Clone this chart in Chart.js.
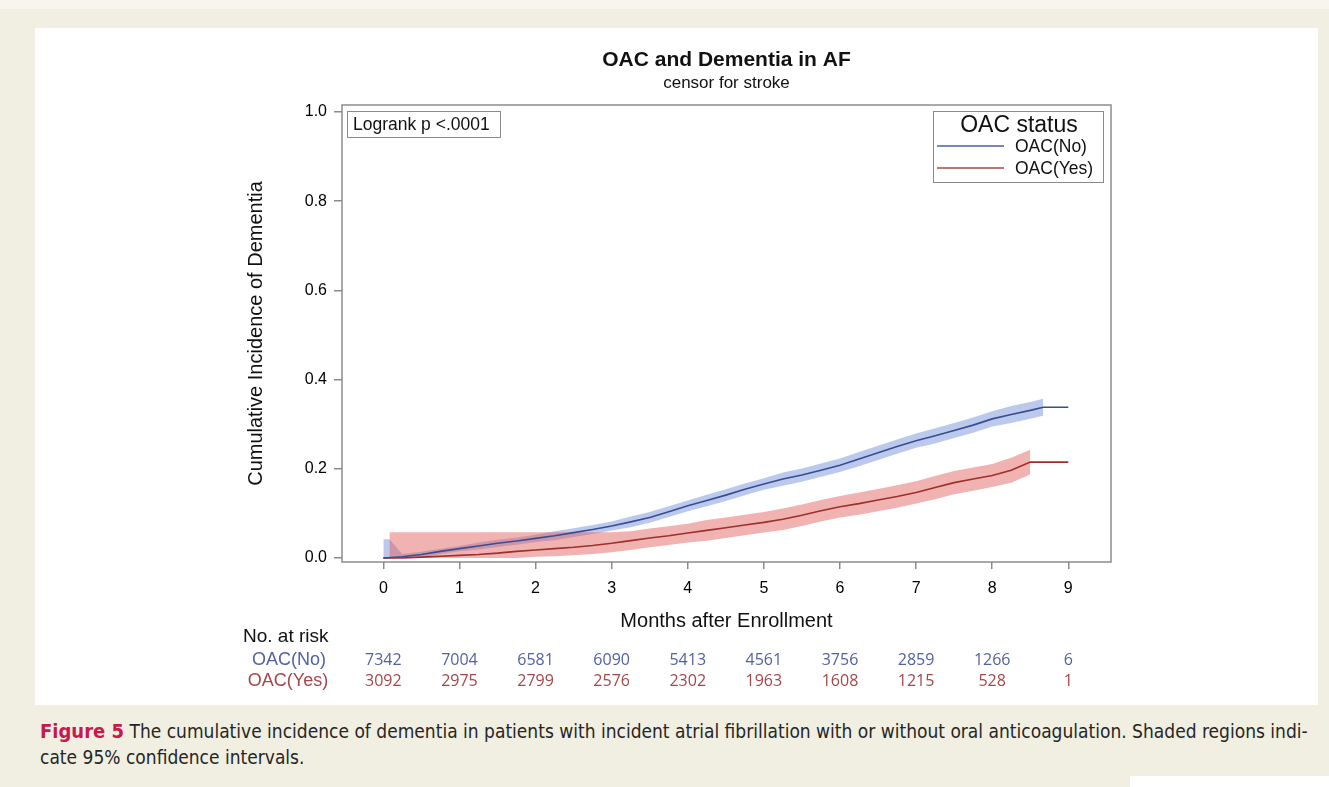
<!DOCTYPE html>
<html>
<head>
<meta charset="utf-8">
<script src="https://cdn.jsdelivr.net/npm/chart.js@4.4.1/dist/chart.umd.min.js"></script>
<style>
  html, body { margin: 0; padding: 0; }
  body { width: 1329px; height: 787px; background: #f1efe2; position: relative; overflow: hidden;
         font-family: "Liberation Sans", Arial, sans-serif; }
  #topband { position: absolute; left: 0; top: 0; width: 1329px; height: 9px; background: #f6f5ee; }
  #panel { position: absolute; left: 35px; top: 28px; width: 1283px; height: 677px; background: #fff; }
  #panel canvas { display: block; }
  #caption { position: absolute; left: 40px; top: 718px; font-family: "Liberation Sans Narrow", "DejaVu Sans Condensed", sans-serif;
             font-size: 19px; line-height: 26px; color: #262626; white-space: nowrap; }
  #caption b { color: #c8184c; font-size: 20px; }
  #corner { position: absolute; left: 1130px; top: 776px; width: 199px; height: 11px; background: #fff; }
</style>
</head>
<body>
<div id="topband"></div>
<div id="panel"><canvas id="km" width="1283" height="677"></canvas></div>
<div id="caption"><b>Figure 5</b> The cumulative incidence of dementia in patients with incident atrial fibrillation with or without oral anticoagulation. Shaded regions indi-<br>cate 95% confidence intervals.</div>
<div id="corner"></div>

<script>
// Follow-up grid (months after enrollment)
const months = [0, 0.25, 0.5, 0.75, 1, 1.25, 1.5, 1.75, 2, 2.25, 2.5, 2.75, 3, 3.25, 3.5, 3.75, 4, 4.25, 4.5, 4.75,
                5, 5.25, 5.5, 5.75, 6, 6.25, 6.5, 6.75, 7, 7.25, 7.5, 7.75, 8, 8.25, 8.5];

// Cumulative incidence of dementia, no oral anticoagulation
const noIncidence = [0, 0.003, 0.008, 0.015, 0.021, 0.027, 0.033, 0.038, 0.044, 0.050, 0.057, 0.064, 0.072, 0.081, 0.091, 0.104,
                     0.117, 0.129, 0.141, 0.154, 0.166, 0.177, 0.186, 0.197, 0.208, 0.222, 0.236, 0.250, 0.263, 0.274, 0.286,
                     0.298, 0.312, 0.322, 0.331];
const noTailMonths = [8.67, 9];
const noTail = [0.338, 0.338];

// Cumulative incidence of dementia, on oral anticoagulation
const yesIncidence = [0, 0, 0.002, 0.004, 0.006, 0.008, 0.011, 0.015, 0.018, 0.021, 0.024, 0.028, 0.033, 0.039, 0.045, 0.050,
                      0.056, 0.062, 0.068, 0.074, 0.080, 0.087, 0.096, 0.106, 0.115, 0.122, 0.130, 0.138, 0.147, 0.158, 0.169,
                      0.177, 0.185, 0.197, 0.215];
const yesTailMonths = [9];
const yesTail = [0.215];

// 95% confidence bands
const noBandMonths = [0, 0.08, 0.25, 0.5, 0.75, 1, 1.25, 1.5, 1.75, 2, 2.25, 2.5, 2.75, 3, 3.25, 3.5, 3.75, 4, 4.25, 4.5, 4.75,
                      5, 5.25, 5.5, 5.75, 6, 6.25, 6.5, 6.75, 7, 7.25, 7.5, 7.75, 8, 8.25, 8.5, 8.67];
const noBandHigh = [0.042, 0.042, 0.009, 0.014, 0.021, 0.027, 0.035, 0.041, 0.046, 0.052, 0.060, 0.067, 0.074, 0.082, 0.093,
                    0.103, 0.116, 0.129, 0.142, 0.154, 0.167, 0.179, 0.192, 0.201, 0.212, 0.223, 0.238, 0.252, 0.266, 0.279,
                    0.291, 0.303, 0.315, 0.329, 0.341, 0.350, 0.357];
const noBandLow = [0, 0, 0, 0.002, 0.009, 0.015, 0.019, 0.025, 0.030, 0.036, 0.040, 0.047, 0.054, 0.062, 0.069, 0.079, 0.092,
                   0.105, 0.116, 0.128, 0.141, 0.153, 0.162, 0.171, 0.182, 0.193, 0.206, 0.220, 0.234, 0.247, 0.257, 0.269,
                   0.281, 0.295, 0.303, 0.312, 0.319];

const yesBandMonths = [0.08, 0.25, 0.5, 0.75, 1, 1.25, 1.5, 1.75, 2, 2.25, 2.5, 2.75, 3, 3.25, 3.5, 3.75, 4, 4.25, 4.5, 4.75,
                       5, 5.25, 5.5, 5.75, 6, 6.25, 6.5, 6.75, 7, 7.25, 7.5, 7.75, 8, 8.25, 8.5];
const yesBandHigh = [0.058, 0.058, 0.058, 0.058, 0.058, 0.058, 0.058, 0.058, 0.058, 0.058, 0.058, 0.058, 0.058, 0.060, 0.066,
                     0.071, 0.077, 0.085, 0.091, 0.097, 0.103, 0.111, 0.120, 0.130, 0.139, 0.147, 0.155, 0.163, 0.172, 0.184,
                     0.195, 0.203, 0.211, 0.225, 0.243];
const yesBandLow = [0, 0, 0, 0, 0, 0, 0, 0, 0.003, 0.004, 0.006, 0.009, 0.013, 0.018, 0.024, 0.029, 0.035, 0.039, 0.045, 0.051,
                    0.057, 0.063, 0.072, 0.082, 0.091, 0.097, 0.105, 0.113, 0.122, 0.132, 0.143, 0.151, 0.159, 0.169, 0.187];

// Number at risk table
const riskMonths = [0, 1, 2, 3, 4, 5, 6, 7, 8, 9];
const noAtRisk = [7342, 7004, 6581, 6090, 5413, 4561, 3756, 2859, 1266, 6];
const yesAtRisk = [3092, 2975, 2799, 2576, 2302, 1963, 1608, 1215, 528, 1];

// Axis ticks
const xTicks = [0, 1, 2, 3, 4, 5, 6, 7, 8, 9];
const yTicks = [0, 0.2, 0.4, 0.6, 0.8, 1.0];

const groupNames = ['OAC(No)', 'OAC(Yes)'];

const pts = (xs, ys) => xs.map((x, i) => ({ x, y: ys[i] }));

const BLUE = '#3b4c8f';
const RED = '#9e2f2b';
const BLUE_BAND = 'rgba(105, 135, 215, 0.45)';
const RED_BAND = 'rgba(225, 95, 95, 0.48)';
const FRAME = '#8c8c8c';
const FONT = '"Liberation Sans", Arial, sans-serif';

const decorations = {
  id: 'decorations',
  beforeDatasetsDraw(chart) {
    const { ctx, chartArea: a } = chart;
    ctx.save();
    ctx.strokeStyle = FRAME;
    ctx.lineWidth = 1.5;
    ctx.strokeRect(a.left, a.top, a.right - a.left, a.bottom - a.top);
    ctx.restore();
  },
  afterDraw(chart) {
    const { ctx } = chart;
    const xs = chart.scales.x;
    ctx.save();

    // Log-rank annotation
    ctx.strokeStyle = '#8a8a8a';
    ctx.lineWidth = 1;
    ctx.strokeRect(312.5, 83.5, 153, 26);
    ctx.fillStyle = '#111';
    ctx.font = '17.5px ' + FONT;
    ctx.textAlign = 'left';
    ctx.textBaseline = 'middle';
    ctx.fillText('Logrank p <.0001', 318, 97);

    // Legend
    ctx.strokeRect(898.5, 83.5, 170, 71);
    ctx.font = '23px ' + FONT;
    ctx.textAlign = 'center';
    ctx.fillText('OAC status', 984, 98);
    ctx.lineWidth = 1.6;
    ctx.strokeStyle = '#4e619e';
    ctx.beginPath(); ctx.moveTo(902, 118); ctx.lineTo(969, 118); ctx.stroke();
    ctx.strokeStyle = '#a8483f';
    ctx.beginPath(); ctx.moveTo(902, 140); ctx.lineTo(969, 140); ctx.stroke();
    ctx.font = '17.5px ' + FONT;
    ctx.textAlign = 'left';
    ctx.fillText(groupNames[0], 980, 119);
    ctx.fillText(groupNames[1], 980, 141);

    // Number at risk
    ctx.font = '19px ' + FONT;
    ctx.fillStyle = '#111';
    ctx.textAlign = 'left';
    ctx.fillText('No. at risk', 208, 609);
    ctx.textAlign = 'center';
    ctx.font = '18px ' + FONT;
    ctx.fillStyle = '#5262a3';
    ctx.fillText(groupNames[0], 254, 632);
    ctx.fillStyle = '#a3474a';
    ctx.fillText(groupNames[1], 253, 653);
    ctx.font = '16px "Open Sans", ' + FONT;
    riskMonths.forEach((m, i) => {
      const px = xs.getPixelForValue(m);
      ctx.fillStyle = '#5262a3';
      ctx.fillText(String(noAtRisk[i]), px, 632);
      ctx.fillStyle = '#a3474a';
      ctx.fillText(String(yesAtRisk[i]), px, 653);
    });
    ctx.restore();
  }
};

new Chart(document.getElementById('km'), {
  type: 'line',
  data: {
    datasets: [
      { label: groupNames[0], data: pts(months.concat(noTailMonths), noIncidence.concat(noTail)),
        borderColor: BLUE, borderWidth: 1.6, pointRadius: 0, fill: false, tension: 0 },
      { label: groupNames[1], data: pts(months.concat(yesTailMonths), yesIncidence.concat(yesTail)),
        borderColor: RED, borderWidth: 1.6, pointRadius: 0, fill: false, tension: 0 },
      { label: 'yes-high', data: pts(yesBandMonths, yesBandHigh), borderWidth: 0, pointRadius: 0,
        backgroundColor: RED_BAND, fill: '+1', tension: 0 },
      { label: 'yes-low', data: pts(yesBandMonths, yesBandLow), borderWidth: 0, pointRadius: 0, fill: false, tension: 0 },
      { label: 'no-high', data: pts(noBandMonths, noBandHigh), borderWidth: 0, pointRadius: 0,
        backgroundColor: BLUE_BAND, fill: '+1', tension: 0 },
      { label: 'no-low', data: pts(noBandMonths, noBandLow), borderWidth: 0, pointRadius: 0, fill: false, tension: 0 }
    ]
  },
  options: {
    responsive: false,
    animation: false,
    devicePixelRatio: 1,
    layout: { padding: { left: 200, right: 207, top: 0, bottom: 72 } },
    plugins: {
      legend: { display: false },
      tooltip: { enabled: false },
      title: { display: true, text: 'OAC and Dementia in AF', fullSize: false, color: '#111',
               font: { family: FONT, size: 21, weight: 'bold' }, padding: { top: 19.4, bottom: 0 } },
      subtitle: { display: true, text: 'censor for stroke', fullSize: false, color: '#111',
                  font: { family: FONT, size: 17 }, padding: { top: 0.4, bottom: 11.6 } }
    },
    scales: {
      x: {
        type: 'linear', min: -0.543, max: 9.561,
        afterBuildTicks: s => { s.ticks = xTicks.map(v => ({ value: v })); },
        afterFit: s => { s.height = 71; },
        ticks: { color: '#000', font: { family: FONT, size: 16 }, padding: 10, maxRotation: 0,
                 callback: v => String(v) },
        grid: { display: true, drawOnChartArea: false, drawTicks: true, tickLength: 7, color: FRAME, lineWidth: 1.5 },
        border: { display: false },
        title: { display: true, text: 'Months after Enrollment', color: '#111',
                 font: { family: FONT, size: 20 }, padding: { top: 0, bottom: 0 } }
      },
      y: {
        type: 'linear', min: -0.0089, max: 1.0157,
        afterBuildTicks: s => { s.ticks = yTicks.map(v => ({ value: v })); },
        afterFit: s => { s.width = 107; },
        ticks: { color: '#000', font: { family: FONT, size: 16 }, padding: 7,
                 callback: v => Number(v).toFixed(1) },
        grid: { display: true, drawOnChartArea: false, drawTicks: true, tickLength: 8, color: FRAME, lineWidth: 1.5 },
        border: { display: false },
        title: { display: true, text: 'Cumulative Incidence of Dementia', color: '#111',
                 font: { family: FONT, size: 20 }, padding: { top: 9, bottom: 0 } }
      }
    }
  },
  plugins: [decorations]
});
</script>
</body>
</html>
